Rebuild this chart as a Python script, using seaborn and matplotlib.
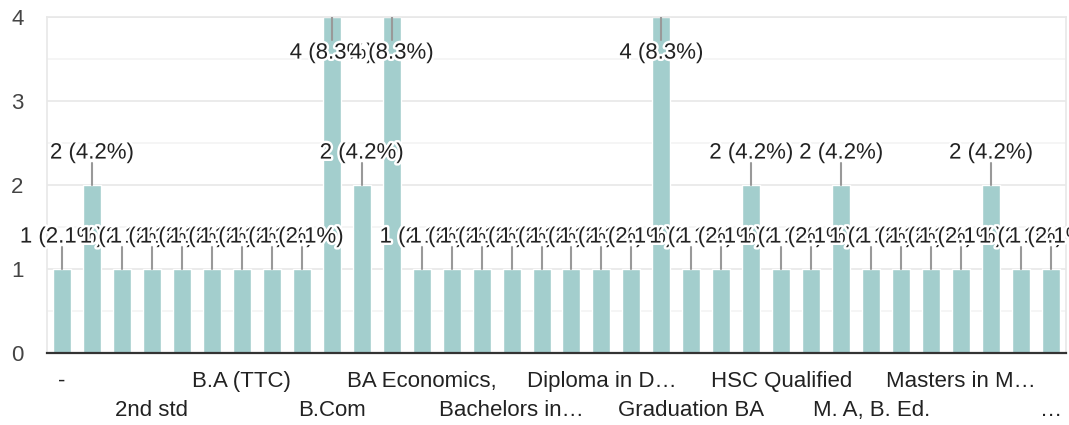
import numpy as np
import pandas as pd
import matplotlib
matplotlib.use("Agg")
import matplotlib.pyplot as plt
import matplotlib.patheffects as pe
import seaborn as sns

# bar counts (34 answers)
counts = [1, 2, 1, 1, 1, 1, 1, 1, 1, 4, 2, 4, 1, 1, 1, 1, 1,
          1, 1, 1, 4, 1, 1, 2, 1, 1, 2, 1, 1, 1, 1, 2, 1, 1]

# only every third category label is shown on the axis
shown_labels = {
    0: "-", 3: "2nd std", 6: "B.A (TTC)", 9: "B.Com",
    12: "BA Economics,", 15: "Bachelors in\u2026", 18: "Diploma in D\u2026",
    21: "Graduation BA", 24: "HSC Qualified", 27: "M. A, B. Ed.",
    30: "Masters in M\u2026", 33: "\u2026",
}
y_ticks = [0, 1, 2, 3, 4]

bar_color = "#a3cecd"
total = sum(counts)

df = pd.DataFrame({"idx": np.arange(len(counts)), "count": counts})

sns.set_theme(style="white")
plt.rcParams["font.family"] = ["Liberation Sans", "DejaVu Sans"]

fig = plt.figure(figsize=(10.69, 4.25), dpi=100)
ax = fig.add_axes([47 / 1069, 1 - 353 / 425, (1066 - 47) / 1069, (353 - 17) / 425])

sns.barplot(data=df, x="idx", y="count", color=bar_color, saturation=1,
            width=0.6, ax=ax, zorder=2)

ax.set_ylim(0, 4)
ax.set_xlim(-0.5, len(counts) - 0.5)
ax.set_yticks(y_ticks)
ax.set_yticks(np.arange(0.5, 4, 1), minor=True)
ax.grid(axis="y", which="major", color="#e8e8e8", lw=1.2, zorder=0)
ax.grid(axis="y", which="minor", color="#f3f3f3", lw=1.2, zorder=0)
ax.grid(axis="x", visible=False)
ax.set_axisbelow(True)

ticklabels = []
for i in range(len(counts)):
    lab = shown_labels.get(i, "")
    if lab and (i // 3) % 2 == 1:
        lab = "\n" + lab
    ticklabels.append(lab)
ax.set_xticks(range(len(counts)))
ax.set_xticklabels(ticklabels, fontsize=16, color="#222222", linespacing=1.5,
                   va="top")
ax.tick_params(axis="x", length=0, pad=13)
ax.tick_params(axis="y", which="both", length=0, pad=17, labelsize=16,
               labelcolor="#444444")
ax.set_xlabel("")
ax.set_ylabel("")

for side in ["left", "top", "right"]:
    ax.spines[side].set_color("#e8e8e8")
    ax.spines[side].set_linewidth(1.2)
ax.spines["bottom"].set_color("#333333")
ax.spines["bottom"].set_linewidth(1.6)
ax.spines["bottom"].set_zorder(5)

# value labels with leader lines
halo = [pe.withStroke(linewidth=3.5, foreground="white")]
for i, v in enumerate(counts):
    label = f"{v} ({v / total * 100:.1f}%)"
    if v + 0.5 > 4:
        ax.plot([i, i], [v, v - 0.27], color="#999999", lw=1.5, zorder=3)
        ty = v - 0.43
    else:
        ax.plot([i, i], [v, v + 0.26], color="#999999", lw=1.5, zorder=3)
        ty = v + 0.38
    ax.text(i, ty, label, ha="center", va="center", fontsize=16,
            color="#222222", path_effects=halo, zorder=4)

fig.savefig("out.png", dpi=100)
